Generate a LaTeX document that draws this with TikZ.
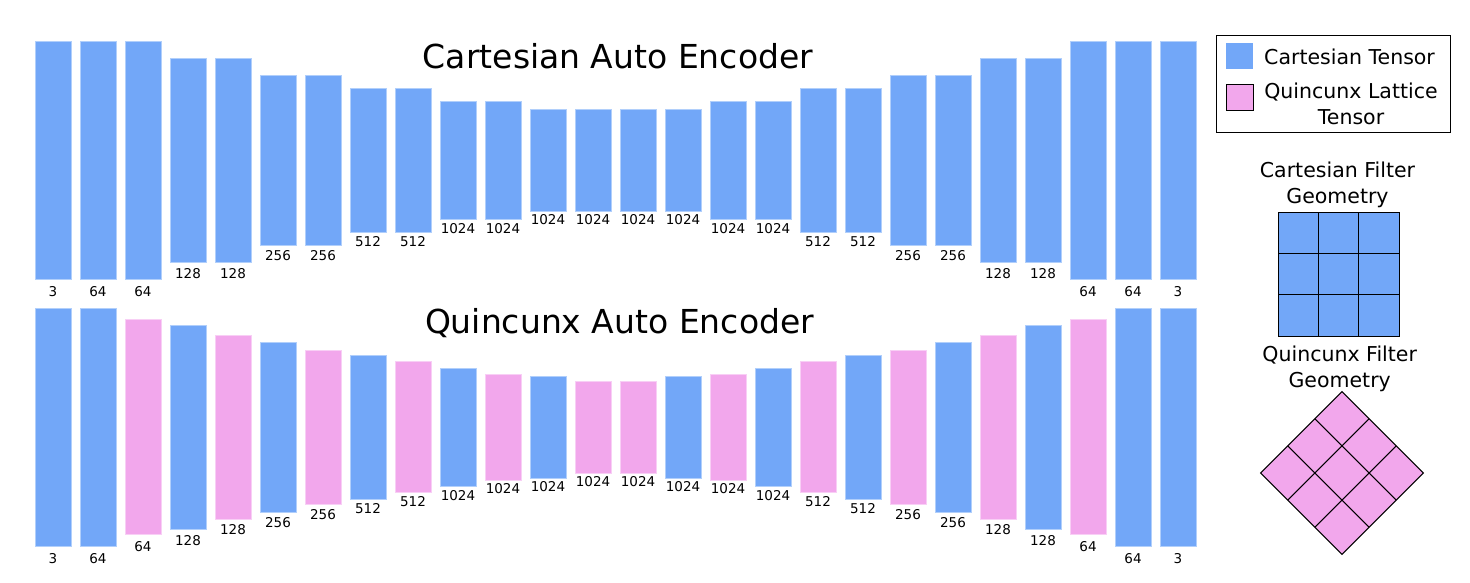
\documentclass[tikz,border=0pt]{standalone}
\usepackage{fontspec}
\setmainfont{DejaVu Sans}
\definecolor{cblue}{HTML}{72A7F8}
\definecolor{cpink}{HTML}{F2A7EC}
\tikzset{
  bar/.style={inner sep=0pt, outer sep=0pt, minimum width=36pt, line width=0.8pt},
  num/.style={font=\fontsize{13.5}{16}\selectfont, inner sep=0pt, anchor=north},
  ttl/.style={font=\fontsize{33}{40}\selectfont, inner sep=0pt, anchor=base},
  legtxt/.style={font=\fontsize{20.5}{26}\selectfont, inner sep=0pt, align=center, anchor=base},
  gridline/.style={line width=1pt, black},
}
\begin{document}
\begin{tikzpicture}[x=1pt,y=-1pt]
\useasboundingbox (0,0) rectangle (1470,582);
% Cartesian auto encoder row
\foreach \i/\h/\lab in {1/238/3,2/238/64,3/238/64,4/204/128,5/204/128,6/170/256,7/170/256,8/144/512,9/144/512,10/118/1024,11/118/1024,12/102/1024,13/102/1024,14/102/1024,15/102/1024,16/118/1024,17/118/1024,18/144/512,19/144/512,20/170/256,21/170/256,22/204/128,23/204/128,24/238/64,25/238/64,26/238/3}{
  \pgfmathsetmacro\xx{53+45*(\i-1)}
  \pgfmathsetmacro\gp{3.5+(\h-102)*0.025}
  \node[bar, fill=cblue, draw=cblue!55!white, minimum height=\h pt] (t\i) at (\xx,160) {};
  \node[num] (tl\i) at ([yshift=-\gp pt]t\i.south) {\lab};
}
% Quincunx auto encoder row
\foreach \i/\h/\c/\lab in {1/238/cblue/3,2/238/cblue/64,3/215/cpink/64,4/204/cblue/128,5/184/cpink/128,6/170/cblue/256,7/154/cpink/256,8/144/cblue/512,9/131/cpink/512,10/118/cblue/1024,11/106/cpink/1024,12/102/cblue/1024,13/92/cpink/1024,14/92/cpink/1024,15/102/cblue/1024,16/106/cpink/1024,17/118/cblue/1024,18/131/cpink/512,19/144/cblue/512,20/154/cpink/256,21/170/cblue/256,22/184/cpink/128,23/204/cblue/128,24/215/cpink/64,25/238/cblue/64,26/238/cblue/3}{
  \pgfmathsetmacro\xx{53+45*(\i-1)}
  \pgfmathsetmacro\gp{3.5+(\h-102)*0.025}
  \node[bar, fill=\c, draw=\c!55!white, minimum height=\h pt] (q\i) at (\xx,427) {};
  \node[num] (ql\i) at ([yshift=-\gp pt]q\i.south) {\lab};
}
% titles
\node[ttl] (title1) at (618,68) {Cartesian Auto Encoder};
\node[ttl] (title2) at (619.5,333.3) {Quincunx Auto Encoder};
% legend
\draw[line width=1pt] (1216,35) rectangle (1450.5,132.5);
\fill[cblue] (1226,43) rectangle (1253,69.3);
\filldraw[fill=cpink, draw=black, line width=0.8pt] (1226,84.3) rectangle (1253,110.7);
\node[legtxt, anchor=base west] (leg1) at (1264,64.5) {Cartesian Tensor};
\node[legtxt] (leg2) at (1351,124) {Quincunx Lattice\\Tensor};
% Cartesian filter geometry
\node[legtxt] (cf) at (1337.5,203.5) {Cartesian Filter\\Geometry};
\fill[cblue] (1278,212) rectangle (1399,336);
\draw[gridline] (1278,212) rectangle (1399,336);
\draw[gridline] (1318.3,212) -- (1318.3,336) (1358.7,212) -- (1358.7,336)
                (1278,253.3) -- (1399,253.3) (1278,294.7) -- (1399,294.7);
% Quincunx filter geometry
\node[legtxt] (qf) at (1339.7,387.3) {Quincunx Filter\\Geometry};
\begin{scope}[shift={(1342,473)}, rotate=45]
  \fill[cpink] (-57.5,-57.5) rectangle (57.5,57.5);
  \draw[gridline] (-57.5,-57.5) rectangle (57.5,57.5);
  \draw[gridline] (-19.17,-57.5) -- (-19.17,57.5) (19.17,-57.5) -- (19.17,57.5)
                  (-57.5,-19.17) -- (57.5,-19.17) (-57.5,19.17) -- (57.5,19.17);
\end{scope}
\end{tikzpicture}
\end{document}
